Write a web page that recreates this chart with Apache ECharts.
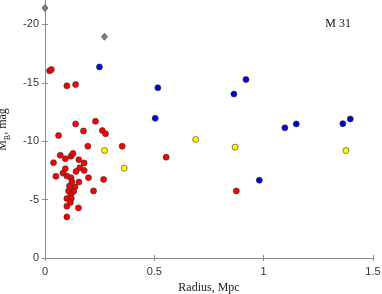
<!DOCTYPE html>
<html><head><meta charset="utf-8">
<script src="https://cdn.jsdelivr.net/npm/echarts@6/dist/echarts.min.js"></script>
<style>html,body{margin:0;padding:0;background:#fff}#c{width:382px;height:294px}</style>
</head><body><div id="c"></div>
<script>
const xTicks = [0, 0.5, 1, 1.5];
const yTicks = [-20, -15, -10, -5, 0];
const redPts = [
  [0.021,-16.02],[0.029,-16.13],[0.100,-14.74],[0.140,-14.85],[0.062,-10.48],
  [0.140,-11.48],[0.176,-10.88],[0.231,-11.70],[0.262,-10.91],[0.277,-10.63],
  [0.196,-9.57],[0.353,-9.57],[0.039,-8.16],[0.050,-6.99],[0.070,-8.80],
  [0.093,-8.50],[0.119,-8.72],[0.128,-8.95],[0.155,-8.41],[0.179,-8.14],
  [0.159,-7.73],[0.082,-7.27],[0.093,-7.64],[0.100,-7.01],[0.119,-6.88],
  [0.142,-7.41],[0.179,-7.50],[0.199,-6.88],[0.268,-6.73],[0.123,-6.54],
  [0.155,-6.50],[0.112,-6.16],[0.137,-6.08],[0.108,-5.74],[0.131,-5.71],
  [0.222,-5.74],[0.119,-5.43],[0.100,-5.09],[0.120,-5.09],[0.116,-4.75],
  [0.100,-4.43],[0.153,-4.29],[0.100,-3.52],[0.554,-8.63],[0.875,-5.74]
];
const bluePts = [
  [0.249,-16.36],[0.516,-14.57],[0.504,-11.96],[0.864,-14.03],[0.919,-15.28],
  [1.097,-11.14],[1.149,-11.48],[1.362,-11.50],[1.396,-11.90],[0.980,-6.65]
];
const yellowPts = [
  [0.272,-9.20],[0.362,-7.69],[0.689,-10.14],[0.869,-9.49],[1.376,-9.20]
];
const grayPts = [[0.0,-21.4],[0.272,-18.94]];
const titleText = 'M 31';

const axisCol = '#8c8c8c';
const lblCol = '#333';
const chart = echarts.init(document.getElementById('c'));
const mk = (data, color, sym, size) => ({
  type: 'scatter', data, symbol: sym, symbolSize: size, silent: true,
  itemStyle: {color, borderColor: '#2a2a2a', borderWidth: 0.6, opacity: 1},
  xAxisIndex: 0, yAxisIndex: 0, z: 5
});
chart.setOption({
  animation: false,
  backgroundColor: '#fff',
  grid: {left: 45, right: 9, top: 1, bottom: 36, containLabel: false, outerBoundsMode: 'none'},
  title: {text: titleText, right: 26, top: 13,
    textStyle: {fontFamily: 'Liberation Serif', fontSize: 12, fontWeight: 'normal', color: '#111'}},
  xAxis: [{
    type: 'value', min: 0, max: 1.5, interval: 0.5,
    axisLine: {show: true, lineStyle: {color: axisCol, width: 1}},
    axisTick: {show: true, inside: true, length: 3, lineStyle: {color: axisCol}},
    axisLabel: {fontFamily: 'Liberation Sans', fontSize: 11, color: lblCol, margin: 8,
      formatter: v => xTicks.includes(v) ? String(v) : ''},
    splitLine: {show: false},
    name: 'Radius, Mpc', nameLocation: 'middle', nameGap: 23,
    nameTextStyle: {fontFamily: 'Liberation Serif', fontSize: 12, color: '#222'}
  }, {
    type: 'value', min: 0, max: 1.5, interval: 0.5, position: 'top',
    axisLine: {show: true, lineStyle: {color: axisCol, width: 1}},
    axisTick: {show: true, inside: true, length: 3, lineStyle: {color: axisCol}},
    axisLabel: {show: false}, splitLine: {show: false}
  }],
  yAxis: [{
    type: 'value', min: -22, max: 0, inverse: true,
    axisLine: {show: true, lineStyle: {color: axisCol, width: 1}},
    axisTick: {show: true, inside: true, length: 3, customValues: yTicks, lineStyle: {color: axisCol}},
    axisLabel: {fontFamily: 'Liberation Sans', fontSize: 11, color: lblCol, margin: 6, customValues: yTicks},
    splitLine: {show: false},
    name: '{m|M}{b|B}{m|, mag}', nameLocation: 'middle', nameGap: 30, nameRotate: 90,
    nameTextStyle: {
      rich: {
        m: {fontFamily: 'Liberation Serif', fontSize: 12, color: '#222', padding: [0,0,3,0]},
        b: {fontFamily: 'Liberation Serif', fontSize: 8, color: '#222', verticalAlign: 'bottom'}
      }
    }
  }, {
    type: 'value', min: -22, max: 0, inverse: true, position: 'right',
    axisLine: {show: true, lineStyle: {color: axisCol, width: 1}},
    axisTick: {show: true, inside: true, length: 3, customValues: yTicks, lineStyle: {color: axisCol}},
    axisLabel: {show: false}, splitLine: {show: false}
  }],
  series: [
    mk(redPts, '#ff0000', 'circle', 6),
    mk(bluePts, '#0000dd', 'circle', 6),
    mk(yellowPts, '#ffff00', 'circle', 6),
    mk(grayPts, '#7f7f7f', 'diamond', [6, 7])
  ]
});
</script></body></html>
